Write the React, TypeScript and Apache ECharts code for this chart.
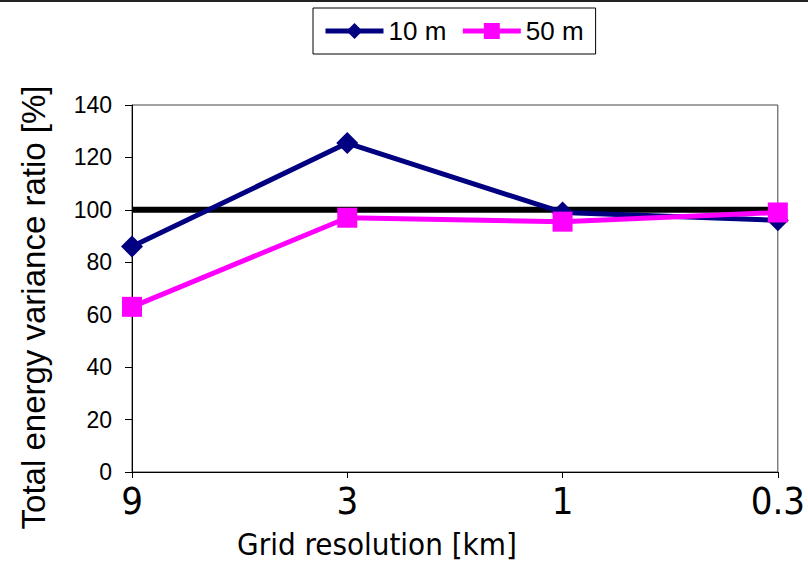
import React, { useEffect, useRef } from "react";
import * as echarts from "echarts";

const categories = ["9", "3", "1", "0.3"];
const series10m = [86, 125.5, 99, 96];
const series50m = [63, 97, 95.5, 99];
const referenceValue = 100;
const yTicks = { min: 0, max: 140, interval: 20 };

export default function App() {
  const ref = useRef<HTMLDivElement>(null);
  useEffect(() => {
    const chart = echarts.init(ref.current!, undefined, { renderer: "svg" });
    chart.setOption({
      animation: false,
      backgroundColor: "#ffffff",
      graphic: [
        {
          type: "line",
          shape: { x1: 0, y1: 1, x2: 808, y2: 1 },
          style: { stroke: "#222", lineWidth: 2 },
        },
      ],
      legend: {
        left: 313,
        top: 8,
        padding: [10, 12, 10, 10],
        borderColor: "#000",
        borderWidth: 1,
        itemWidth: 58,
        itemHeight: 20,
        itemGap: 14,
        lineStyle: { width: 5 },
        textStyle: { fontFamily: "Liberation Sans", fontSize: 26, color: "#000" },
        data: ["10 m", "50 m"],
      },
      grid: {
        left: 132,
        right: 28,
        top: 105,
        bottom: 97,
        show: true,
        borderColor: "#444",
        borderWidth: 1,
        containLabel: false,
      },
      xAxis: {
        type: "category",
        data: categories,
        boundaryGap: false,
        name: "Grid resolution [km]",
        nameLocation: "middle",
        nameGap: 56,
        nameTextStyle: {
          fontFamily: "DejaVu Sans Condensed",
          fontSize: 31,
          color: "#000",
          padding: [0, 156, 0, 0],
        },
        axisLine: { lineStyle: { color: "#000", width: 1 } },
        axisTick: { show: true, alignWithLabel: true, length: 6, lineStyle: { color: "#000" } },
        axisLabel: {
          fontFamily: "DejaVu Sans Condensed",
          fontSize: 38,
          color: "#000",
          margin: 10,
        },
        splitLine: { show: false },
      },
      yAxis: {
        type: "value",
        min: yTicks.min,
        max: yTicks.max,
        interval: yTicks.interval,
        name: "Total energy variance ratio [%]",
        nameLocation: "middle",
        nameGap: 82,
        nameTextStyle: {
          fontFamily: "Liberation Sans",
          fontSize: 33,
          color: "#000",
          padding: [0, 38, 0, 0],
        },
        axisLine: { show: true, lineStyle: { color: "#000", width: 1 } },
        axisTick: { show: true, length: 7, lineStyle: { color: "#000" } },
        axisLabel: { fontFamily: "Liberation Sans", fontSize: 23, color: "#000", margin: 20 },
        splitLine: { show: false },
      },
      series: [
        {
          name: "ref",
          type: "line",
          data: categories.map(() => referenceValue),
          showSymbol: false,
          symbol: "none",
          lineStyle: { color: "#000", width: 6 },
          z: 1,
        },
        {
          name: "10 m",
          type: "line",
          data: series10m,
          symbol: "diamond",
          symbolSize: 22,
          itemStyle: { color: "#000080" },
          lineStyle: { color: "#000080", width: 5 },
          z: 2,
        },
        {
          name: "50 m",
          type: "line",
          data: series50m,
          symbol: "rect",
          symbolSize: 20,
          itemStyle: { color: "#FF00FF" },
          lineStyle: { color: "#FF00FF", width: 5 },
          z: 3,
        },
      ],
    });
    return () => chart.dispose();
  }, []);
  return <div ref={ref} style={{ width: 808, height: 569, position: "absolute", left: 0, top: 0 }} />;
}
